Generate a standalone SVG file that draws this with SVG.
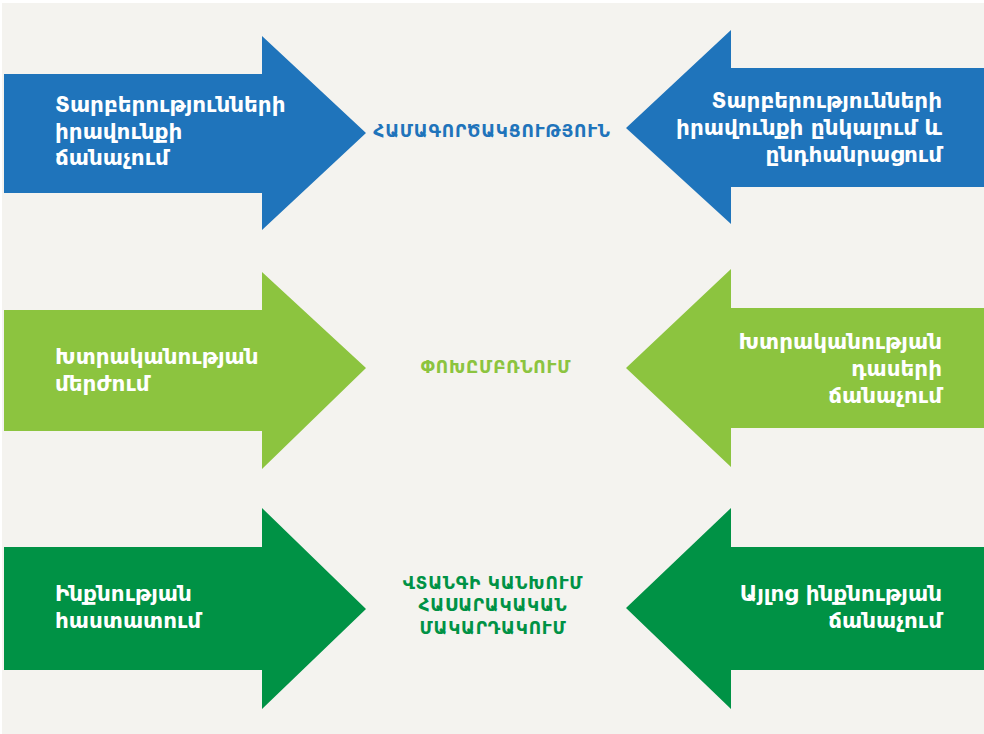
<svg xmlns="http://www.w3.org/2000/svg" width="984" height="734" viewBox="0 0 984 734">
  <style>
    .blue { fill: #1f74bb; }
    .lime { fill: #8cc43f; }
    .green { fill: #009245; }
    .lbl { font-family: "DejaVu Sans", "Noto Sans", sans-serif; font-size: 21.5px; font-weight: bold; fill: #ffffff; }
    .lbl-r { text-anchor: end; }
    .mid { font-family: "DejaVu Sans", "Noto Sans", sans-serif; font-size: 17px; font-weight: bold; text-anchor: middle; letter-spacing: 0.8px; }
  </style>
  <rect x="0" y="0" width="984" height="734" fill="#ffffff"/>
  <rect x="2" y="3" width="982" height="731" fill="#f4f3ef"/>

  <!-- row 1 -->
  <g id="node-left-1">
    <polygon class="blue" points="4,74 262,74 262,36 366,133 262,230 262,193 4,193"/>
    <text class="lbl" x="55" y="112">Տարբերությունների</text>
    <text class="lbl" x="55" y="139">իրավունքի</text>
    <text class="lbl" x="55" y="165">ճանաչում</text>
  </g>
  <g id="node-right-1">
    <polygon class="blue" points="984,68 731,68 731,30 626,128 731,224 731,187 984,187"/>
    <text class="lbl lbl-r" x="942" y="108">Տարբերությունների</text>
    <text class="lbl lbl-r" x="942" y="135">իրավունքի ընկալում և</text>
    <text class="lbl lbl-r" x="942" y="162">ընդհանրացում</text>
  </g>
  <g id="node-center-1">
    <text class="mid" x="492" y="137" fill="#1f74bb">ՀԱՄԱԳՈՐԾԱԿՑՈՒԹՅՈՒՆ</text>
  </g>

  <!-- row 2 -->
  <g id="node-left-2">
    <polygon class="lime" points="4,310 262,310 262,272 366,368 262,469 262,431 4,431"/>
    <text class="lbl" x="55" y="364">Խտրականության</text>
    <text class="lbl" x="55" y="391">մերժում</text>
  </g>
  <g id="node-right-2">
    <polygon class="lime" points="984,308 731,308 731,269 626,368 731,467 731,428 984,428"/>
    <text class="lbl lbl-r" x="942" y="349">Խտրականության</text>
    <text class="lbl lbl-r" x="942" y="376">դասերի</text>
    <text class="lbl lbl-r" x="942" y="403">ճանաչում</text>
  </g>
  <g id="node-center-2">
    <text class="mid" x="496" y="373" fill="#8cc43f">ՓՈԽԸՄԲՌՆՈՒՄ</text>
  </g>

  <!-- row 3 -->
  <g id="node-left-3">
    <polygon class="green" points="4,547 262,547 262,508 366,609 262,709 262,670 4,670"/>
    <text class="lbl" x="55" y="601">Ինքնության</text>
    <text class="lbl" x="55" y="628">հաստատում</text>
  </g>
  <g id="node-right-3">
    <polygon class="green" points="984,547 731,547 731,508 626,608 731,709 731,670 984,670"/>
    <text class="lbl lbl-r" x="942" y="601">Այլոց ինքնության</text>
    <text class="lbl lbl-r" x="942" y="628">ճանաչում</text>
  </g>
  <g id="node-center-3">
    <text class="mid" x="493" y="589" fill="#009245">ՎՏԱՆԳԻ ԿԱՆԽՈՒՄ</text>
    <text class="mid" x="493" y="611" fill="#009245">ՀԱՍԱՐԱԿԱԿԱՆ</text>
    <text class="mid" x="493" y="634" fill="#009245">ՄԱԿԱՐԴԱԿՈՒՄ</text>
  </g>

  <g id="connectors"></g>
</svg>
